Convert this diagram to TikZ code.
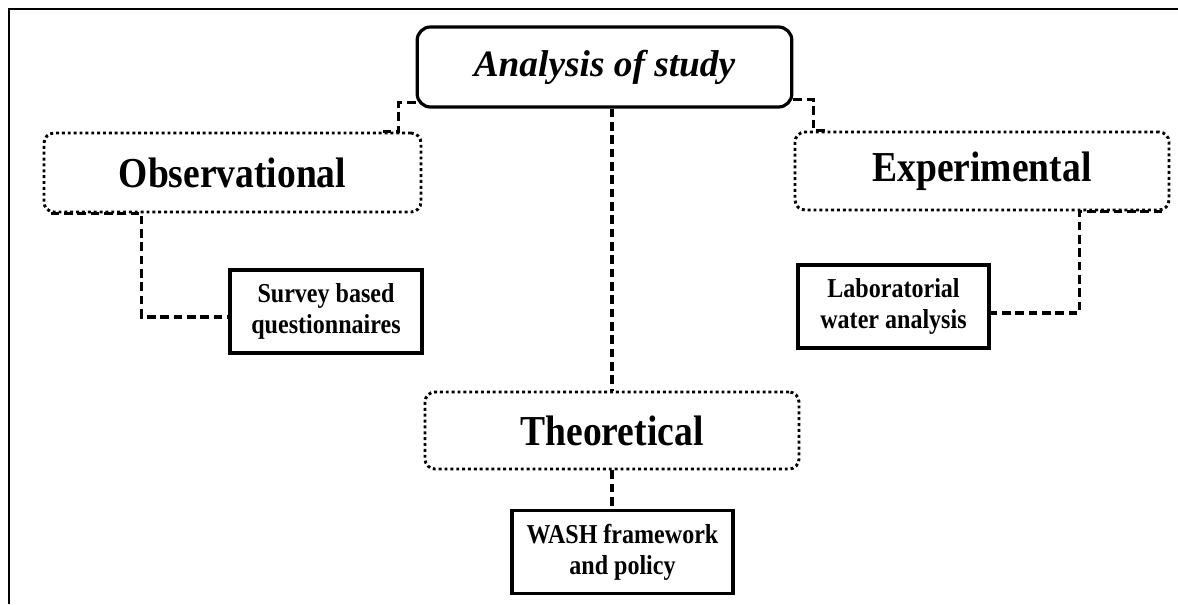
\documentclass[tikz,border=0pt]{standalone}
\usepackage{fontspec}
\setmainfont{Liberation Serif}
\newfontfamily\narrowfont{Liberation Serif}[FakeStretch=0.88]
\usepackage{tikz}
\usetikzlibrary{calc}

\begin{document}
\begin{tikzpicture}[x=0.75pt,y=0.75pt,yscale=-1,xscale=1,
  headbox/.style={draw,line width=2.4pt,rounded corners=10pt,inner sep=0pt,font=\fontsize{28}{33}\selectfont\bfseries\itshape},
  typebox/.style={draw,line width=2.2pt,dash pattern=on 2.2pt off 2.2pt,rounded corners=7.5pt,inner sep=0pt,minimum width=280.5pt,minimum height=58.5pt,font=\narrowfont\bfseries\fontsize{32}{36}\selectfont},
  methodbox/.style={draw,line width=2.6pt,inner sep=0pt,minimum height=62.25pt,align=center,font=\narrowfont\bfseries\fontsize{20.5}{23.25}\selectfont},
  link/.style={line width=2.8pt,dash pattern=on 6.5pt off 3.5pt}]

\useasboundingbox (0,0) rectangle (1178,604);
\draw[line width=2.2pt] (1178,9) -- (9,9) -- (9,604);

\node[headbox,minimum width=281pt,minimum height=60pt] (analysis) at (604.5,67) {Analysis of study};

\node[typebox,minimum width=282.75pt,minimum height=59.25pt] (obs) at (232.5,172.5) {Observational};
\node[typebox] (exp) at (982,171) {Experimental};
\node[typebox,minimum height=57.75pt] (theo) at (612,430.5) {Theoretical};

\node[methodbox,minimum width=144pt] (survey) at (326,311.5) {Survey based\\questionnaires};
\node[methodbox,minimum width=143.25pt] (lab) at (893.5,306.5) {Laboratorial\\water analysis};
\node[methodbox,minimum width=165.75pt] (wash) at (622.5,552) {WASH framework\\and policy};

\draw[link] ($(analysis.south west)+(0,-6)$) -| ($(obs.north east)+(-24,0)$) -- ++(-15,0);
\draw[link] ($(analysis.south east)+(0,-9)$) -| ($(exp.north west)+(20,0)$) -- ++(15,0);
\draw[link] (theo.north |- analysis.south) -- (theo.north);

\draw[link] ($(obs.south west)+(8,0)$) -- ($(obs.south west)+(99,0)$) |- ($(survey.west)+(0,5.5)$);
\draw[link] ($(exp.south east)+(-8,0)$) -- ($(exp.south east)+(-91,0)$) |- ($(lab.east)+(0,6.5)$);
\draw[link] (theo.south) -- (theo.south |- wash.north);

\end{tikzpicture}
\end{document}
